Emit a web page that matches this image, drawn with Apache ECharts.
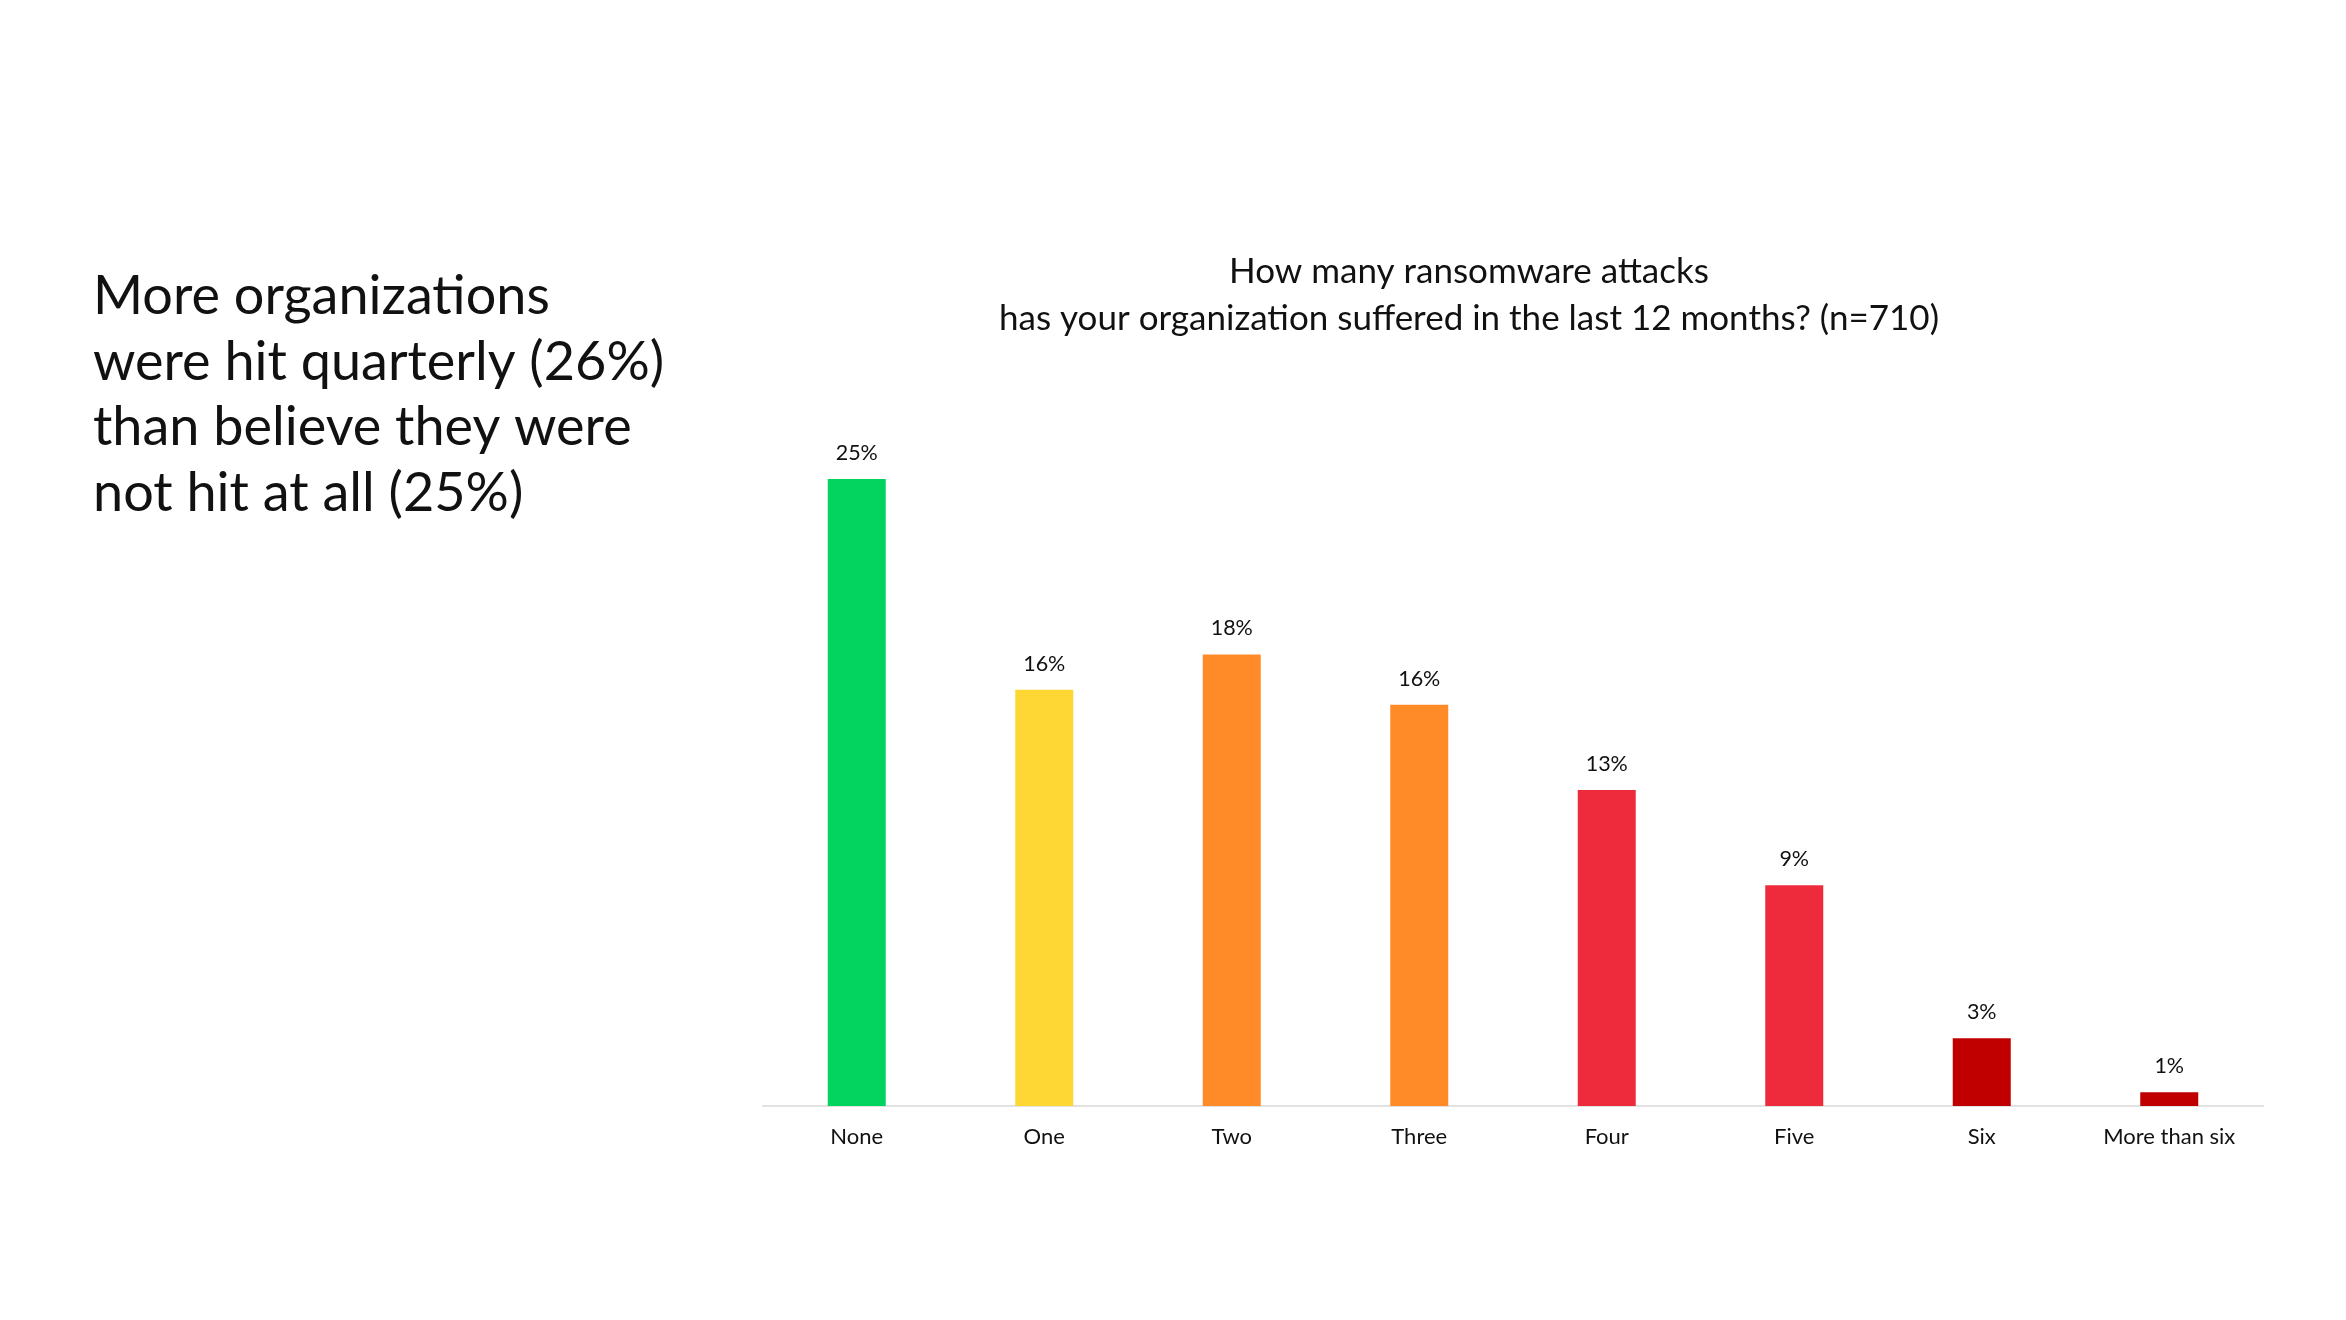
<!DOCTYPE html>
<html>
<head>
<meta charset="utf-8">
<script src="https://cdn.jsdelivr.net/npm/echarts@6/dist/echarts.min.js"></script>
<style>
html,body{margin:0;padding:0;background:#fff;}
#chart{width:2346px;height:1320px;}
</style>
</head>
<body>
<div id="chart"></div>
<script>
const categories = ['None', 'One', 'Two', 'Three', 'Four', 'Five', 'Six', 'More than six'];
const values = [25, 16.6, 18.0, 16.0, 12.6, 8.8, 2.7, 0.55];
const valueLabels = ['25%', '16%', '18%', '16%', '13%', '9%', '3%', '1%'];
const barColors = ['#03D35F', '#FFD734', '#FF8A28', '#FF8A28', '#EE2B3D', '#EE2B3D', '#C00000', '#C00000'];
const chartTitle = 'How many ransomware attacks\nhas your organization suffered in the last 12 months? (n=710)';
const sideText = 'More organizations\nwere hit quarterly (26%)\nthan believe they were\nnot hit at all (25%)';

const FONT = 'Lato, "Noto Sans", sans-serif';
const chart = echarts.init(document.getElementById('chart'));
chart.setOption({
  backgroundColor: '#ffffff',
  animation: false,
  title: [
    {
      text: chartTitle,
      left: 1464, top: 243, textAlign: 'center',
      textStyle: { fontFamily: FONT, fontSize: 35, fontWeight: 'normal', color: '#111', lineHeight: 47 }
    },
    {
      text: sideText,
      left: 88, top: 259,
      textStyle: { fontFamily: FONT, fontSize: 54, fontWeight: 'normal', color: '#111', lineHeight: 65.5 }
    }
  ],
  grid: { left: 763, right: 83, top: 479, bottom: 214, containLabel: false },
  xAxis: {
    type: 'category',
    data: categories,
    axisLine: { show: true, lineStyle: { color: '#E2E2E2', width: 2 } },
    axisTick: { show: false },
    axisLabel: { fontFamily: FONT, fontSize: 22, color: '#111', margin: 20 }
  },
  yAxis: {
    type: 'value', min: 0, max: 25,
    show: false,
    splitLine: { show: false }
  },
  series: [{
    type: 'bar',
    barWidth: 58,
    data: values.map((v, i) => ({ value: v, itemStyle: { color: barColors[i] } })),
    label: {
      show: true, position: 'top', distance: 15,
      fontFamily: FONT, fontSize: 21.5, color: '#111',
      formatter: p => valueLabels[p.dataIndex]
    }
  }]
});
</script>
</body>
</html>
